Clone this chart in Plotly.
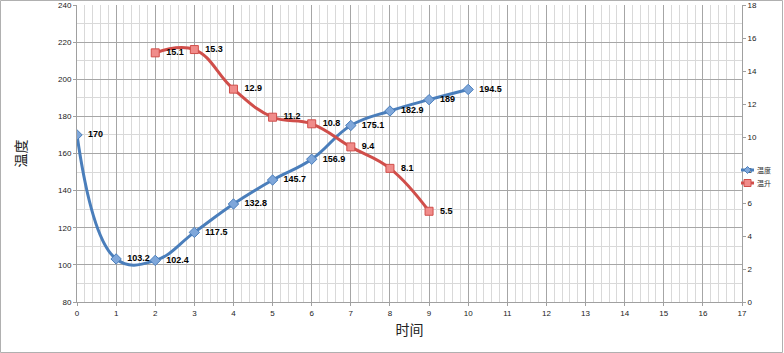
import plotly.graph_objects as go

time_temp = [0, 1, 2, 3, 4, 5, 6, 7, 8, 9, 10]
temp = [170, 103.2, 102.4, 117.5, 132.8, 145.7, 156.9, 175.1, 182.9, 189, 194.5]
time_rise = [2, 3, 4, 5, 6, 7, 8, 9]
rise = [15.1, 15.3, 12.9, 11.2, 10.8, 9.4, 8.1, 5.5]
series_names = ["温度", "温升"]

W, H = 784, 353
L, R, T, B = 77, 42, 5, 51
pw, ph = W - L - R, H - T - B

BLUE, BLUE_F = "#4A7EBB", "#7FA7DA"
RED, RED_F = "#D04E4A", "#F08C8A"

fig = go.Figure()
fig.add_trace(go.Scatter(
    x=time_temp, y=temp, name=series_names[0], mode="lines+markers+text",
    line=dict(color=BLUE, width=3, shape="spline", smoothing=1.2),
    marker=dict(symbol="diamond", size=8, color=BLUE_F, line=dict(color=BLUE, width=1)),
    text=[str(v) for v in temp], textposition="middle right",
    textfont=dict(family="Liberation Sans, Arial", size=9, color="#000000"),
    texttemplate="\u00a0\u00a0<b>%{text}</b>", showlegend=False,
))
fig.add_trace(go.Scatter(
    x=time_rise, y=rise, name=series_names[1], mode="lines+markers+text", yaxis="y2",
    line=dict(color=RED, width=3, shape="spline", smoothing=1.2),
    marker=dict(symbol="square", size=8, color=RED_F, line=dict(color=RED, width=1)),
    text=[str(v) for v in rise], textposition="middle right",
    textfont=dict(family="Liberation Sans, Arial", size=9, color="#000000"),
    texttemplate="\u00a0\u00a0<b>%{text}</b>", showlegend=False,
))

fig.update_layout(
    width=W, height=H,
    margin=dict(l=L, r=R, t=T, b=B, autoexpand=False),
    paper_bgcolor="white", plot_bgcolor="white",
    font=dict(family="Liberation Sans, Arial", size=8, color="#222222"),
    showlegend=False,
    xaxis=dict(
        range=[0, 17], dtick=1, tick0=0, showgrid=True, gridcolor="#A6A6A6", gridwidth=1,
        minor=dict(dtick=0.2, showgrid=True, gridcolor="#D9D9D9", gridwidth=1),
        showline=True, linecolor="#A0A0A0", linewidth=1, mirror=False,
        ticks="outside", ticklen=3, tickcolor="#A0A0A0",
        tickfont=dict(size=8, color="#222222"), zeroline=False,
        title=dict(text="时间", font=dict(family="Noto Sans CJK SC", size=14, color="#222222"), standoff=8),
    ),
    yaxis=dict(
        range=[80, 240], dtick=20, tick0=80, showgrid=True, gridcolor="#A6A6A6", gridwidth=1,
        minor=dict(dtick=10, showgrid=True, gridcolor="#D9D9D9", gridwidth=1),
        showline=True, linecolor="#A0A0A0", linewidth=1,
        ticks="outside", ticklen=3, tickcolor="#A0A0A0",
        tickfont=dict(size=8, color="#222222"), zeroline=False,
        title=dict(text="温度", font=dict(family="Noto Sans CJK SC", size=14, color="#222222"), standoff=28),
    ),
    yaxis2=dict(
        range=[0, 18], dtick=2, tick0=0, overlaying="y", side="right", showgrid=False,
        showline=True, linecolor="#A0A0A0", linewidth=1,
        ticks="outside", ticklen=3, tickcolor="#A0A0A0",
        tickfont=dict(size=8, color="#222222"), zeroline=False,
    ),
)

# outer chart border
fig.add_shape(type="rect", xref="paper", yref="paper",
              x0=-(L - 0.5) / pw, x1=1 + (R - 1.5) / pw,
              y0=-(B - 0.5) / ph, y1=1 + (T - 0.5) / ph,
              line=dict(color="#B0B0B0", width=1), layer="below")

# manual compact legend (pixel positions converted to paper coords)
def px(xp):
    return (xp - L) / pw

def py(yp):
    return (H - B - yp) / ph

legend_items = [(series_names[0], BLUE, BLUE_F, "diamond", 170),
                (series_names[1], RED, RED_F, "square", 183)]
for name, lc, fc, sym, ypix in legend_items:
    fig.add_shape(type="line", xref="paper", yref="paper",
                  x0=px(741), x1=px(754), y0=py(ypix), y1=py(ypix),
                  line=dict(color=lc, width=3))
    cx, cy, s = 747.5, ypix, 3.5
    if sym == "diamond":
        path = (f"M {px(cx - s)} {py(cy)} L {px(cx)} {py(cy - s)} "
                f"L {px(cx + s)} {py(cy)} L {px(cx)} {py(cy + s)} Z")
    else:
        path = (f"M {px(cx - s)} {py(cy - s)} L {px(cx + s)} {py(cy - s)} "
                f"L {px(cx + s)} {py(cy + s)} L {px(cx - s)} {py(cy + s)} Z")
    fig.add_shape(type="path", xref="paper", yref="paper", path=path,
                  fillcolor=fc, line=dict(color=lc, width=1))
    fig.add_annotation(xref="paper", yref="paper", x=px(755), y=py(ypix),
                       text=name, showarrow=False, xanchor="left", yanchor="middle",
                       font=dict(family="Noto Sans CJK SC", size=7, color="#333333"))

fig.write_html("out.html")
